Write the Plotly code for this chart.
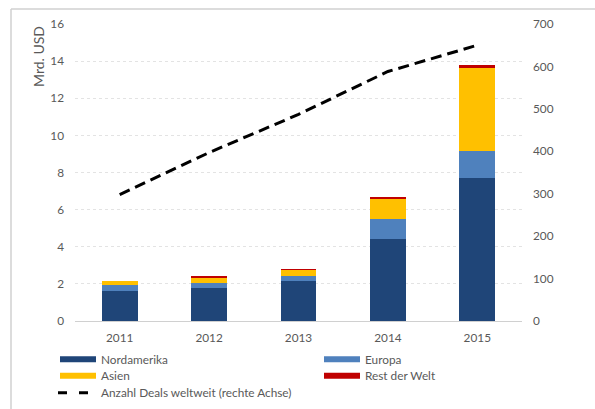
import plotly.graph_objects as go

# Investitionsvolumen nach Region (Mrd. USD) und Anzahl Deals
jahre = ["2011", "2012", "2013", "2014", "2015"]
nordamerika = [1.60, 1.78, 2.17, 4.42, 7.69]
europa = [0.32, 0.27, 0.25, 1.09, 1.45]
asien = [0.23, 0.28, 0.33, 1.10, 4.51]
rest_der_welt = [0.00, 0.08, 0.05, 0.09, 0.13]
anzahl_deals = [298, 397, 487, 588, 650]

links_ticks = [0, 2, 4, 6, 8, 10, 12, 14, 16]
rechts_ticks = [0, 100, 200, 300, 400, 500, 600, 700]

farben = {
    "Nordamerika": "#1F4578",
    "Europa": "#4F81BD",
    "Asien": "#FFC000",
    "Rest der Welt": "#C00000",
}

FONT = "Lato, 'Open Sans', sans-serif"
GREY = "#595959"
FS = 11.8

fig = go.Figure()
for name, werte in [("Nordamerika", nordamerika), ("Europa", europa),
                    ("Asien", asien), ("Rest der Welt", rest_der_welt)]:
    fig.add_trace(go.Bar(x=jahre, y=werte, name=name,
                         marker=dict(color=farben[name], line=dict(width=0)),
                         showlegend=False))

fig.add_trace(go.Scatter(x=jahre, y=anzahl_deals, yaxis="y2", mode="lines",
                         name="Anzahl Deals weltweit (rechte Achse)",
                         line=dict(color="black", width=3, dash="11px,6px"),
                         showlegend=False))

# Plotflaeche: links 75px, rechts 522px, oben 24px, unten 321px
L, R, T, B = 75, 522, 24, 321
W, H = R - L, B - T


def px_x(x):
    return (x - L) / W


def px_y(y):
    return (B - y) / H


shapes = [
    # Rahmen oben und links
    dict(type="line", xref="paper", yref="paper",
         x0=px_x(11), x1=px_x(640), y0=px_y(9), y1=px_y(9),
         line=dict(color="#D0D0D0", width=1.5), layer="below"),
    dict(type="line", xref="paper", yref="paper",
         x0=px_x(11), x1=px_x(11), y0=px_y(9), y1=px_y(440),
         line=dict(color="#D0D0D0", width=1.5), layer="below"),
]
annotations = [
    dict(text="Mrd. USD", xref="paper", yref="paper", x=px_x(38), y=px_y(57),
         textangle=-90, showarrow=False, xanchor="center", yanchor="middle",
         font=dict(family=FONT, size=14, color=GREY)),
]

# Legende
legende = [
    ("Nordamerika", 60, 359.3, "rect"),
    ("Europa", 324, 359.3, "rect"),
    ("Asien", 60, 375.7, "rect"),
    ("Rest der Welt", 324, 375.7, "rect"),
    ("Anzahl Deals weltweit (rechte Achse)", 58, 392.7, "line"),
]
for text, x0, yc, art in legende:
    if art == "rect":
        shapes.append(dict(type="rect", xref="paper", yref="paper",
                           x0=px_x(x0), x1=px_x(x0 + 36),
                           y0=px_y(yc - 3), y1=px_y(yc + 3),
                           fillcolor=farben[text], line=dict(width=0)))
    else:
        shapes.append(dict(type="line", xref="paper", yref="paper",
                           x0=px_x(x0), x1=px_x(x0 + 30),
                           y0=px_y(yc), y1=px_y(yc),
                           line=dict(color="black", width=3, dash="9px,12px")))
    annotations.append(dict(text=text, xref="paper", yref="paper",
                            x=px_x(x0 + 39 if art == "rect" else 99), y=px_y(yc),
                            showarrow=False, xanchor="left", yanchor="middle",
                            font=dict(family=FONT, size=FS, color=GREY)))

fig.update_layout(
    width=595, height=409,
    margin=dict(l=L, r=595 - R, t=T, b=409 - B),
    paper_bgcolor="white", plot_bgcolor="white",
    barmode="stack", bargap=0.6,
    font=dict(family=FONT, size=FS, color=GREY),
    xaxis=dict(type="category", range=[-0.5, 4.5], showgrid=False,
               showline=True, linecolor="#D0D0D0", linewidth=1,
               ticks="", ticklabelstandoff=6,
               tickfont=dict(family=FONT, size=FS, color=GREY)),
    yaxis=dict(range=[0, 16], tickvals=links_ticks, showgrid=True,
               gridcolor="#E3E3E3", gridwidth=1, griddash="dot",
               zeroline=False, showline=False, ticks="",
               ticklabelstandoff=10,
               tickfont=dict(family=FONT, size=FS, color=GREY)),
    yaxis2=dict(range=[0, 700], tickvals=rechts_ticks, overlaying="y",
                side="right", showgrid=False, zeroline=False, showline=False,
                ticks="", ticklabelstandoff=10,
                tickfont=dict(family=FONT, size=FS, color=GREY)),
    shapes=shapes,
    annotations=annotations,
)

fig.write_html("out.html")
